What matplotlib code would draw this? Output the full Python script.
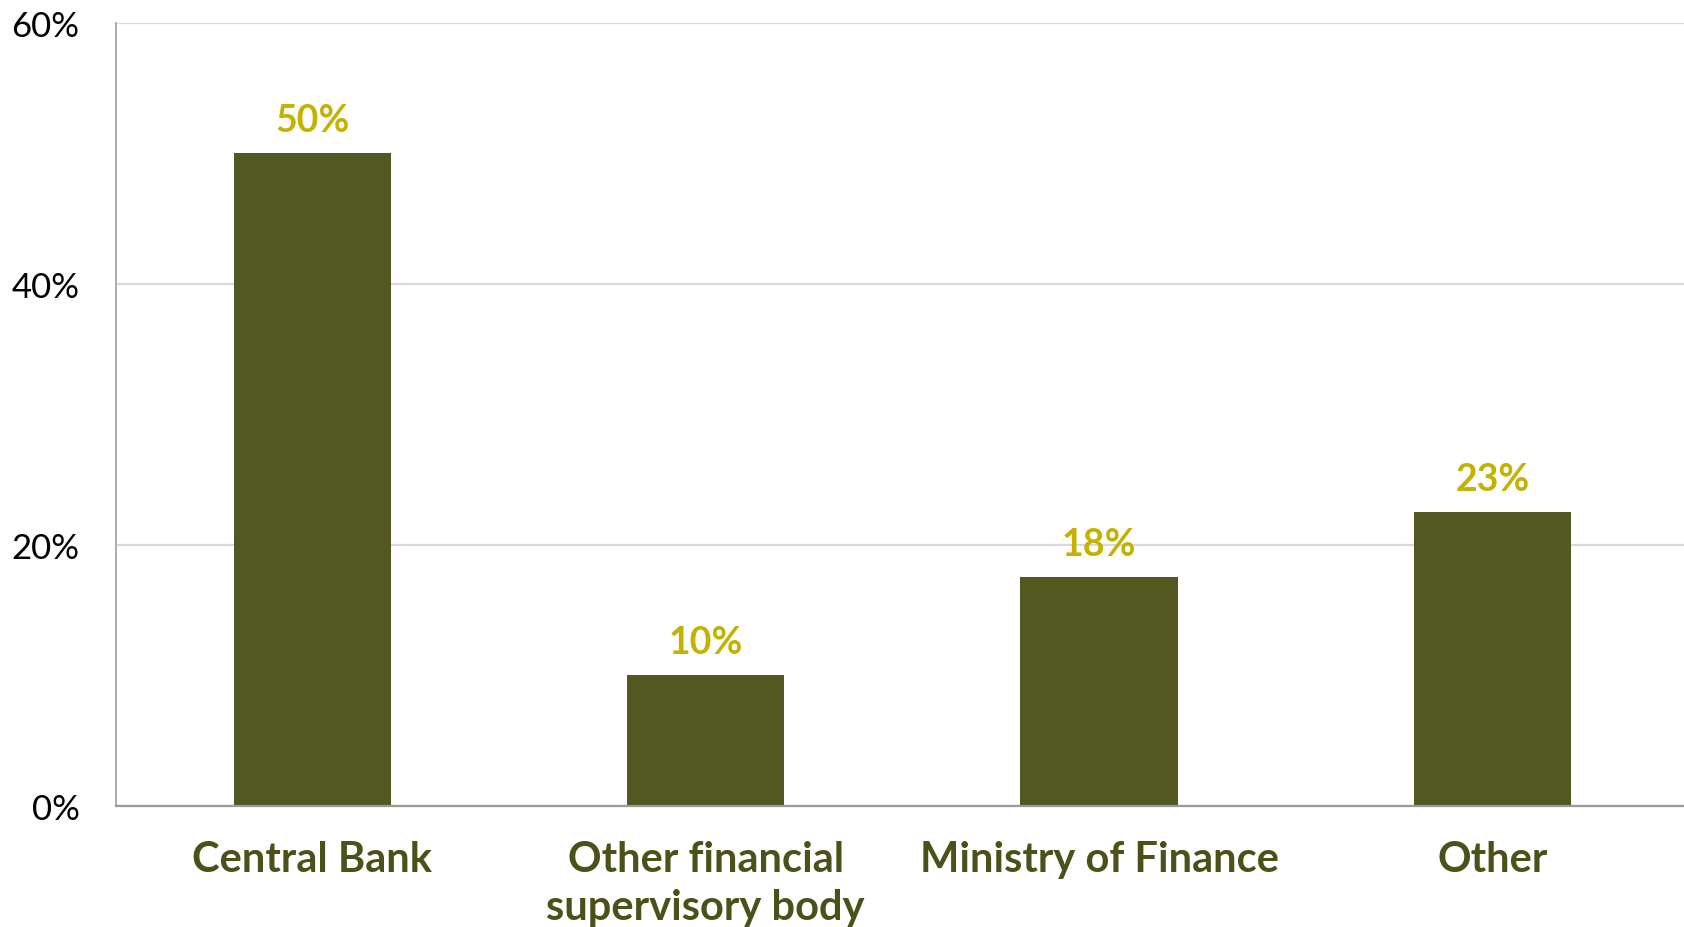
import matplotlib.pyplot as plt
from matplotlib.ticker import FuncFormatter

categories = ["Central Bank", "Other financial\nsupervisory body", "Ministry of Finance", "Other"]
shares = [50.0, 10.0, 17.5, 22.5]
share_labels = ["50%", "10%", "18%", "23%"]
y_ticks = [0, 20, 40, 60]

bar_color = "#52581F"
value_color = "#C4B200"
cat_color = "#4B5119"

plt.rcParams['font.family'] = ['Lato', 'DejaVu Sans']

fig = plt.figure(figsize=(16.84, 9.28), dpi=100)
ax = fig.add_axes([0.0687, 0.1307, 0.9313, 0.8434])

x = list(range(len(categories)))
bars = ax.bar(x, shares, width=0.4, color=bar_color, zorder=3)

# value labels above bars
for rect, lab in zip(bars, share_labels):
    ax.annotate(lab, (rect.get_x() + rect.get_width() / 2, rect.get_height()),
                xytext=(0, 16), textcoords='offset points', ha='center', va='baseline',
                fontsize=27, fontweight='bold', color=value_color)

ax.set_xlim(-0.5, 3.487)
ax.set_ylim(0, 60)
ax.set_yticks(y_ticks)
ax.yaxis.set_major_formatter(FuncFormatter(lambda v, p: f"{v:.0f}%"))
ax.set_xticks(x)
ax.set_xticklabels(categories, fontsize=30, fontweight='bold', color=cat_color, linespacing=1.32)

ax.tick_params(axis='y', length=0, pad=26, labelsize=25, labelcolor='black')
ax.tick_params(axis='x', length=0, pad=25)

ax.grid(axis='y', color='#D9D9D9', linewidth=1.6, zorder=0)
for side in ['top', 'right']:
    ax.spines[side].set_visible(False)
ax.spines['left'].set_color('#A6A6A6')
ax.spines['left'].set_linewidth(1.3)
ax.spines['bottom'].set_color('#9A9A9A')
ax.spines['bottom'].set_linewidth(1.6)
ax.spines['bottom'].set_zorder(4)

fig.savefig("out.png", dpi=100)
